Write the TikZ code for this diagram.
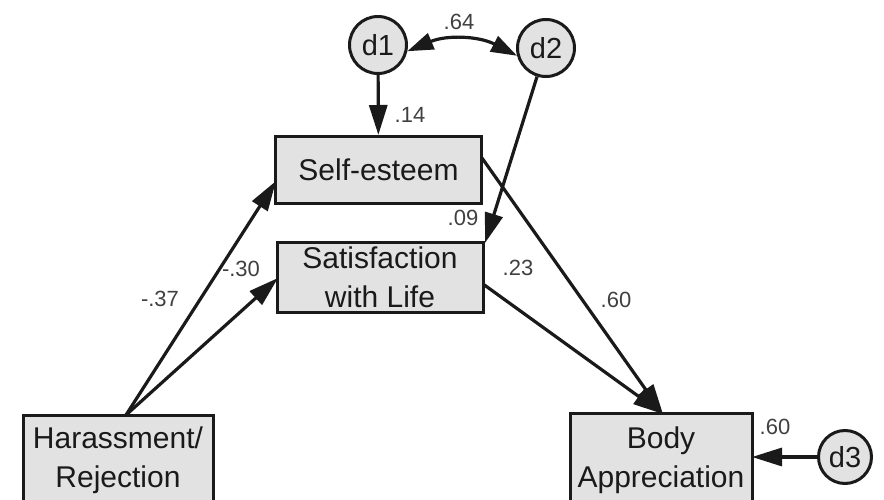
\documentclass[tikz,border=0pt]{standalone}
\usepackage{fontspec}
\setmainfont{Liberation Sans}
\usetikzlibrary{arrows.meta}
\definecolor{boxfill}{HTML}{E2E2E2}
\definecolor{ink}{HTML}{1A1A1A}
\definecolor{coefink}{HTML}{404040}
\begin{document}
\begin{tikzpicture}[x=1pt,y=-1pt,
  var/.style={draw=ink,line width=3pt,fill=boxfill,inner sep=0pt,
    align=center,text=ink,font=\fontsize{30}{39}\selectfont},
  err/.style={circle,draw=ink,line width=3pt,fill=boxfill,inner sep=0pt,
    minimum size=57pt,text=ink,font=\fontsize{29}{30}\selectfont},
  path/.style={draw=ink,line width=3.2pt,-{Triangle[length=30pt,width=18pt]}},
  cov/.style={draw=ink,line width=3.2pt,
    {Triangle[length=26pt,width=17pt]}-{Triangle[length=26pt,width=17pt]}},
  coef/.style={font=\fontsize{22}{24}\selectfont,text=coefink}]
\useasboundingbox (0,0) rectangle (884,500);
% observed variables
\node[var,minimum width=206pt,minimum height=67pt] (se) at (378.5,170) {Self-esteem};
\node[var,minimum width=206pt,minimum height=70pt] (sl) at (380,277)
  {\fontsize{30}{34}\selectfont Satisfaction\\with Life};
\node[var,minimum width=190pt,minimum height=90pt] (hr) at (118,460) {Harassment/\\Rejection};
\node[var,minimum width=182pt,minimum height=94pt] (ba) at (661,460) {Body\\Appreciation};
% disturbances
\node[err] (d1) at (378,45) {d1};
\node[err] (d2) at (546,48) {d2};
\node[err,minimum size=53pt] (d3) at (845,457) {d3};
% attachment points on the boxes
\coordinate (hrtop) at (126,415);
\coordinate (seL) at (276,181);
\coordinate (slL) at (278,278);
\coordinate (seR) at (482,158);
\coordinate (slR) at (483,284);
\coordinate (batop) at (663,414);
\coordinate (baR) at (752,457);
\coordinate (slTR) at (485,243);
% paths
\draw[path] (hrtop) -- (seL);
\draw[path] (hrtop) -- (slL);
\draw[path] (seR) -- (batop);
\draw[path] (slR) -- (batop);
\draw[path] (d1) -- (se);
\draw[path] (d2) -- (slTR);
\draw[path] (d3.west) -- (baR);
\draw[cov] (d1.-12) to[bend left=25] (d2.195);
% coefficients
\node[coef] (c64) at (459,22) {.64};
\node[coef] (c14) at (410,115) {.14};
\node[coef] (c09) at (463,218) {.09};
\node[coef] (c23) at (518,268) {.23};
\node[coef] (c60a) at (616,300) {.60};
\node[coef] (c37) at (160,299) {-.37};
\node[coef] (c30) at (241,269) {-.30};
\node[coef] (c60b) at (775,427) {.60};
\end{tikzpicture}
\end{document}
